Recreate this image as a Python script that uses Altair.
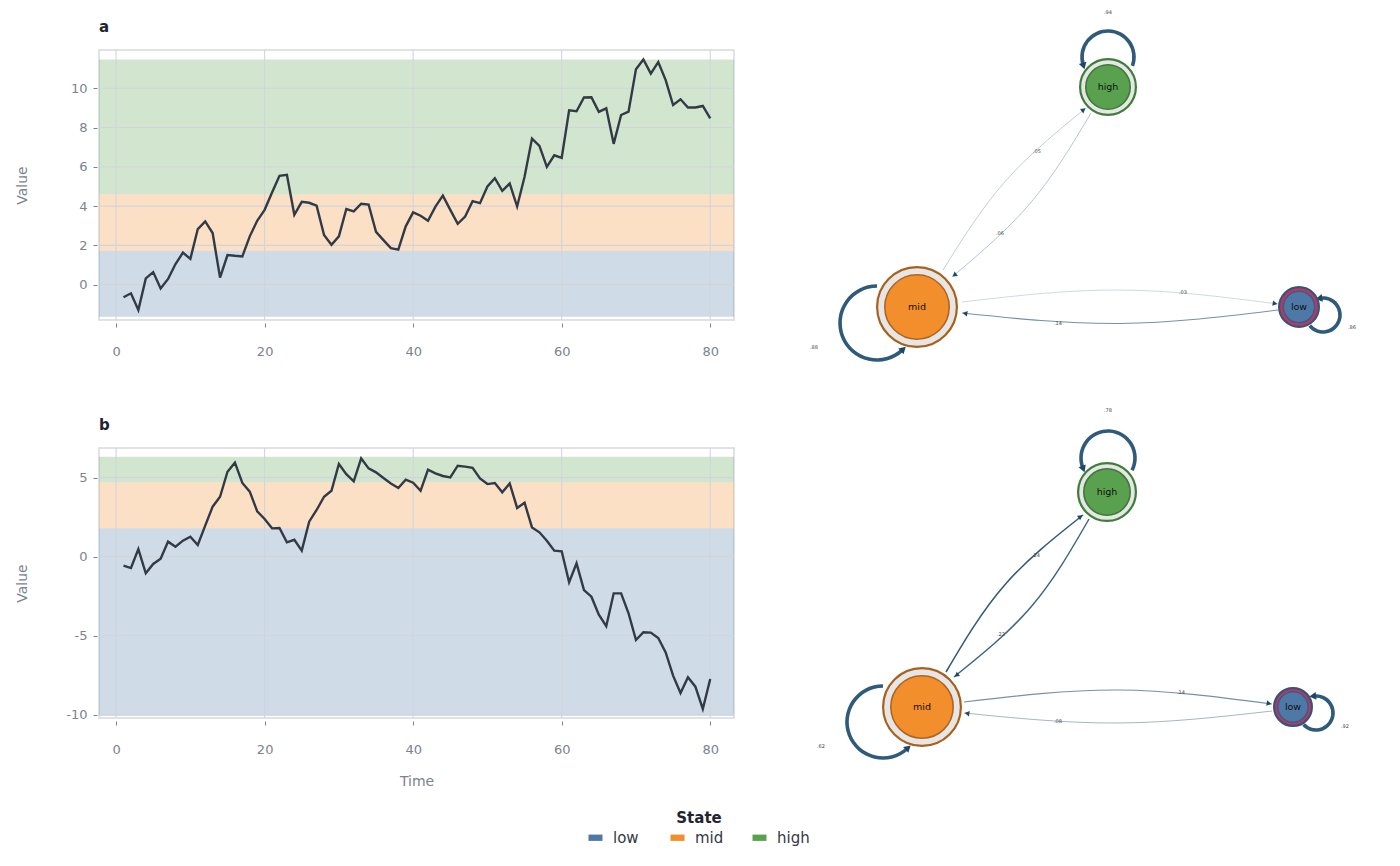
import math
import altair as alt
import pandas as pd

# ------------------------------------------------------------------ data
time = list(range(1, 81))
value_a = [-0.64, -0.44, -1.29, 0.32, 0.64, -0.19, 0.29, 1.05, 1.63, 1.31,
           2.83, 3.22, 2.63, 0.36, 1.51, 1.47, 1.44, 2.46, 3.25, 3.81,
           4.69, 5.54, 5.59, 3.56, 4.22, 4.17, 4.02, 2.53, 2.03, 2.46,
           3.85, 3.73, 4.12, 4.08, 2.69, 2.27, 1.86, 1.78, 2.97, 3.68,
           3.51, 3.25, 3.97, 4.53, 3.81, 3.10, 3.47, 4.25, 4.15, 5.00,
           5.42, 4.78, 5.15, 3.98, 5.49, 7.44, 7.07, 6.00, 6.59, 6.46,
           8.88, 8.83, 9.53, 9.54, 8.80, 8.98, 7.17, 8.64, 8.81, 10.97,
           11.47, 10.75, 11.34, 10.42, 9.15, 9.44, 9.02, 9.02, 9.10, 8.47]
value_b = [-0.57, -0.72, 0.48, -1.05, -0.46, -0.13, 0.95, 0.63, 1.01, 1.26,
           0.74, 1.96, 3.16, 3.79, 5.37, 5.94, 4.66, 4.11, 2.87, 2.38,
           1.79, 1.81, 0.91, 1.07, 0.38, 2.21, 2.95, 3.79, 4.17, 5.86,
           5.22, 4.76, 6.21, 5.58, 5.33, 4.97, 4.63, 4.34, 4.87, 4.68,
           4.17, 5.50, 5.27, 5.10, 5.01, 5.75, 5.69, 5.62, 4.95, 4.59,
           4.66, 4.07, 4.63, 3.08, 3.41, 1.85, 1.54, 1.01, 0.38, 0.34,
           -1.62, -0.42, -2.11, -2.53, -3.67, -4.40, -2.32, -2.32, -3.58, -5.27,
           -4.78, -4.80, -5.14, -6.05, -7.52, -8.62, -7.63, -8.22, -9.63, -7.73]

states = ["low", "mid", "high"]
state_colors = ["#4e79a7", "#f28e2b", "#59a14f"]
band_lo_a = [-1.63, 1.73, 4.61]
band_hi_a = [1.73, 4.61, 11.47]
band_lo_b = [-10.05, 1.79, 4.70]
band_hi_b = [1.79, 4.70, 6.32]
x_ticks = [0, 20, 40, 60, 80]
y_ticks_a = [0, 2, 4, 6, 8, 10]
y_ticks_b = [-10, -5, 0, 5]

# transition probabilities (self loops: high, mid, low; edges: mid>high, high>mid, mid>low, low>mid)
self_prob_a = [0.94, 0.88, 0.86]
edge_prob_a = [0.05, 0.06, 0.03, 0.14]
self_prob_b = [0.78, 0.62, 0.92]
edge_prob_b = [0.24, 0.22, 0.14, 0.08]

# network layout (page-like layout units)
net_nodes = ["high", "mid", "low"]
node_x_a = [1108, 917, 1299]
node_y_a = [87, 307, 307]
node_x_b = [1107, 922, 1293]
node_y_b = [492, 707, 707]
node_rout_a = [29, 41, 21]
node_rin_a = [23, 33, 16.5]
node_rout_b = [30, 40, 20]
node_rin_b = [24, 32, 16]

loop_cx_a = [1108, 877, 1323]
loop_cy_a = [57, 323, 315]
loop_r_a = [26, 37, 17]
loop_a0_a = [253, 137, 351.5]
loop_a1_a = [470, 360, 591]
loop_lx_a = [1108, 814, 1352]
loop_ly_a = [12, 347, 327]

loop_cx_b = [1108, 883, 1316]
loop_cy_b = [458, 722, 713]
loop_r_b = [27, 36, 17]
loop_a0_b = [249, 138, 354]
loop_a1_b = [477, 360, 587]
loop_lx_b = [1108, 821, 1345]
loop_ly_b = [410, 746, 726]

edge_x0_a = [943, 1091, 962, 1278]
edge_y0_a = [270, 113, 302, 310]
edge_x1_a = [1086, 952, 1278, 962]
edge_y1_a = [108, 277, 304, 313]
edge_bend_a = [12, 12, 13, 12]
edge_lx_a = [1037, 1000, 1183, 1058]
edge_ly_a = [151, 233, 292, 323]

edge_x0_b = [946, 1089, 964, 1272]
edge_y0_b = [672, 519, 702, 711]
edge_x1_b = [1083, 954, 1272, 964]
edge_y1_b = [515, 677, 704, 713]
edge_bend_b = [13, 13, 13, 11]
edge_lx_b = [1036, 1001, 1181, 1058]
edge_ly_b = [555, 634, 692, 721]

# ------------------------------------------------------------------ styles
FONT = "DejaVu Sans"
GRAY = "#7b8390"
GRID = "#d0d5dc"
LINE = "#323a46"
X_DOMAIN = [-2.3, 83.2]
NET_X = [760, 1370]
RECT_PATH = "M-1,-0.45L1,-0.45L1,0.45L-1,0.45Z"

outer_fill = {"high": "#e6e6e6", "mid": "#e6e6e6", "low": "#c8325f"}
outer_stroke = {"high": "#3f7d3a", "mid": "#a8601c", "low": "#34557b"}
inner_fill = {"high": "#59a14f", "mid": "#f28e2b", "low": "#4e79a7"}
inner_stroke = {"high": "#3e7a37", "mid": "#b0661f", "low": "#3a5d85"}

legend = alt.Legend(
    title="State", orient="none", legendX=489, legendY=761, direction="horizontal",
    titleAnchor="middle", titleFontSize=15, titleFontWeight="bold", titleColor="#1f2530",
    titleFont=FONT, titlePadding=4, labelFontSize=15, labelColor="#333a45", labelFont=FONT,
    labelOffset=10, symbolType=RECT_PATH, symbolSize=196, symbolOpacity=1,
    symbolStrokeWidth=0, columnPadding=24, gridAlign="all")


def ts_panel(tag, values, lo, hi, ydom, yticks, title_pad, show_xtitle):
    xs = alt.Scale(domain=X_DOMAIN, nice=False, zero=False)
    ys = alt.Scale(domain=ydom, nice=False, zero=False)
    xaxis_kw = dict(values=x_ticks, grid=False, domain=False, tickColor=GRAY, tickSize=4,
                    offset=3, labelColor=GRAY, labelFontSize=13, labelFont=FONT,
                    labelPadding=18, titleColor=GRAY, titleFontSize=14,
                    titleFontWeight="normal", titleFont=FONT, titlePadding=18)
    if show_xtitle:
        xaxis = alt.Axis(title="Time", **xaxis_kw)
    else:
        xaxis = alt.Axis(title=None, **xaxis_kw)
    yaxis = alt.Axis(values=yticks, grid=False, domain=False, tickColor=GRAY, tickSize=4,
                     offset=2, labelColor=GRAY, labelFontSize=13, labelFont=FONT,
                     labelPadding=6, labelExpr="'' + datum.value",
                     title="Value", titleColor=GRAY, titleFontSize=14,
                     titleFontWeight="normal", titleFont=FONT, titlePadding=title_pad)

    bands = pd.DataFrame({"state": states, "lo": lo, "hi": hi})
    df = pd.DataFrame({"Time": time, "Value": values})

    band_layer = alt.Chart(bands).mark_rect(opacity=0.27).encode(
        y=alt.Y("lo:Q", scale=ys, axis=yaxis),
        y2="hi:Q",
        color=alt.Color("state:N", scale=alt.Scale(domain=states, range=state_colors),
                        legend=legend),
    )
    vgrid = alt.Chart(pd.DataFrame({"t": x_ticks})).mark_rule(color=GRID, strokeWidth=1.1).encode(
        x=alt.X("t:Q", scale=xs, axis=xaxis))
    hgrid = alt.Chart(pd.DataFrame({"v": yticks})).mark_rule(color=GRID, strokeWidth=1.1).encode(
        y=alt.Y("v:Q", scale=ys, axis=yaxis))
    line = alt.Chart(df).mark_line(color=LINE, strokeWidth=2.4).encode(
        x=alt.X("Time:Q", scale=xs, axis=xaxis),
        y=alt.Y("Value:Q", scale=ys, axis=yaxis),
    )
    return alt.layer(band_layer, vgrid, hgrid, line).properties(
        width=635, height=270,
        title=alt.TitleParams(text=tag, anchor="start", frame="group", fontSize=15,
                              fontWeight="bold", color="#1f2530", font=FONT, offset=14),
    )


def fmt(p):
    return ("%.2f" % p).lstrip("0")


def net_panel(nx, ny, rout, rin, lcx, lcy, lr, la0, la1, llx, lly, sp,
              ex0, ey0, ex1, ey1, ebend, elx, ely, ep, ydom):
    xs = alt.Scale(domain=NET_X, nice=False, zero=False)
    ys = alt.Scale(domain=ydom, nice=False, zero=False, reverse=True)

    def X(f):
        return alt.X(f, type="quantitative", scale=xs, axis=None)

    def Y(f):
        return alt.Y(f, type="quantitative", scale=ys, axis=None)

    nodes = pd.DataFrame({
        "state": net_nodes, "x": nx, "y": ny,
        "s_out": [(2 * (r - 1.1)) ** 2 for r in rout],
        "s_in": [(2 * (r - 0.8)) ** 2 for r in rin],
        "of": [outer_fill[s] for s in net_nodes],
        "os": [outer_stroke[s] for s in net_nodes],
        "inf": [inner_fill[s] for s in net_nodes],
        "ins": [inner_stroke[s] for s in net_nodes],
    })

    rows, arrows, labels = [], [], []
    for i in range(len(ex0)):
        x0, y0, x1, y1 = ex0[i], ey0[i], ex1[i], ey1[i]
        dx, dy = x1 - x0, y1 - y0
        L = math.hypot(dx, dy)
        nxv, nyv = dy / L, -dx / L
        mx = (x0 + x1) / 2 + ebend[i] * nxv
        my = (y0 + y1) / 2 + ebend[i] * nyv
        w = 0.6 + 4 * ep[i]
        op = min(1.0, 0.2 + 3 * ep[i])
        for k, (px, py) in enumerate([(x0, y0), (mx, my), (x1, y1)]):
            rows.append({"e": i, "k": k, "x": px, "y": py, "w": w, "op": op})
        cx = 2 * mx - (x0 + x1) / 2
        cy = 2 * my - (y0 + y1) / 2
        tx, ty = x1 - cx, y1 - cy
        tl = math.hypot(tx, ty)
        ux, uy = tx / tl, ty / tl
        arrows.append({"x": x1 - 3 * ux, "y": y1 - 3 * uy,
                       "ang": math.degrees(math.atan2(ux, -uy)) % 360, "sz": 30})
        labels.append({"x": elx[i], "y": ely[i], "txt": fmt(ep[i])})
    edges = pd.DataFrame(rows)

    lrows = []
    for i in range(len(lcx)):
        a0 = math.radians(la0[i])
        a1 = math.radians(la1[i])
        lrows.append({"x": lcx[i], "y": lcy[i], "t0": a0, "t1": a1,
                      "ro": lr[i] + 1.8, "ri": lr[i] - 1.8})
        px = lcx[i] + lr[i] * math.sin(a0)
        py = lcy[i] - lr[i] * math.cos(a0)
        ux, uy = -math.cos(a0), -math.sin(a0)
        arrows.append({"x": px + 1.5 * ux, "y": py + 1.5 * uy,
                       "ang": math.degrees(math.atan2(ux, -uy)) % 360, "sz": 60})
        labels.append({"x": llx[i], "y": lly[i], "txt": fmt(sp[i])})
    loops = pd.DataFrame(lrows)
    arrows = pd.DataFrame(arrows)
    labels = pd.DataFrame(labels)

    edge_layer = alt.Chart(edges).mark_line(interpolate="natural", color="#1f4d6e").encode(
        x=X("x"), y=Y("y"), detail="e:N", order="k:Q",
        strokeWidth=alt.StrokeWidth("w:Q", scale=None),
        opacity=alt.Opacity("op:Q", scale=None))
    loop_layer = alt.Chart(loops).mark_arc(color="#2f5a7a").encode(
        x=X("x"), y=Y("y"),
        theta=alt.Theta("t0:Q", scale=None, stack=None), theta2="t1:Q",
        radius=alt.Radius("ro:Q", scale=None), radius2="ri:Q")
    arrow_layer = alt.Chart(arrows).mark_point(shape="triangle-up", filled=True,
                                                color="#1c4866", opacity=1).encode(
        x=X("x"), y=Y("y"), angle=alt.Angle("ang:Q", scale=None),
        size=alt.Size("sz:Q", scale=None))
    outer = alt.Chart(nodes).mark_point(shape="circle", filled=True, strokeWidth=2.2, opacity=1).encode(
        x=X("x"), y=Y("y"), size=alt.Size("s_out:Q", scale=None),
        fill=alt.Fill("of:N", scale=None), stroke=alt.Stroke("os:N", scale=None))
    inner = alt.Chart(nodes).mark_point(shape="circle", filled=True, strokeWidth=1.6, opacity=1).encode(
        x=X("x"), y=Y("y"), size=alt.Size("s_in:Q", scale=None),
        fill=alt.Fill("inf:N", scale=None), stroke=alt.Stroke("ins:N", scale=None))
    node_text = alt.Chart(nodes).mark_text(font=FONT, fontSize=9.5, color="#111111").encode(
        x=X("x"), y=Y("y"), text="state:N")
    lab_layer = alt.Chart(labels).mark_text(font=FONT, fontSize=5, color="#444444").encode(
        x=X("x"), y=Y("y"), text="txt:N")
    return alt.layer(edge_layer, loop_layer, arrow_layer, outer, inner, node_text, lab_layer).properties(
        width=610, height=270, view=alt.ViewBackground(stroke="transparent"))


ts_a = ts_panel("a", value_a, band_lo_a, band_hi_a, [-1.8, 11.95], y_ticks_a, 41, False)
ts_b = ts_panel("b", value_b, band_lo_b, band_hi_b, [-10.2, 6.87], y_ticks_b, 36, True)
net_a = net_panel(node_x_a, node_y_a, node_rout_a, node_rin_a, loop_cx_a, loop_cy_a, loop_r_a,
                  loop_a0_a, loop_a1_a, loop_lx_a, loop_ly_a, self_prob_a,
                  edge_x0_a, edge_y0_a, edge_x1_a, edge_y1_a, edge_bend_a, edge_lx_a, edge_ly_a,
                  edge_prob_a, [50, 320])
net_b = net_panel(node_x_b, node_y_b, node_rout_b, node_rin_b, loop_cx_b, loop_cy_b, loop_r_b,
                  loop_a0_b, loop_a1_b, loop_lx_b, loop_ly_b, self_prob_b,
                  edge_x0_b, edge_y0_b, edge_x1_b, edge_y1_b, edge_bend_b, edge_lx_b, edge_ly_b,
                  edge_prob_b, [448, 718])

chart = alt.concat(ts_a, net_a, ts_b, net_b, columns=2,
                   spacing={"row": 128, "column": 26}, bounds="flush", align="each").properties(
    padding={"left": 6, "top": 1, "right": 10, "bottom": 4}
).configure(font=FONT).configure_view(stroke="#d5dae0", strokeWidth=1.5)

chart.save("out.html", embed_options={"renderer": "svg", "actions": False})
